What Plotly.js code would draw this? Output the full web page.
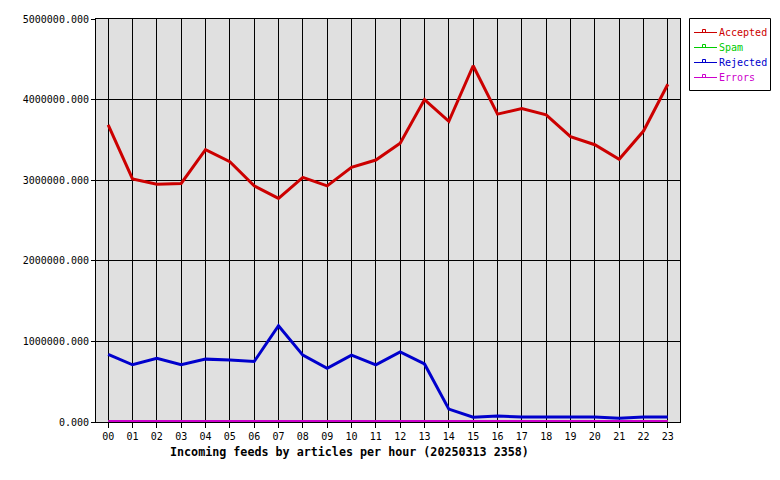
<!DOCTYPE html>
<html>
<head>
<meta charset="utf-8">
<script src="https://cdn.plot.ly/plotly-3.0.1.min.js"></script>
<style>html,body{margin:0;padding:0;background:#fff;}#chart{width:780px;height:480px;}</style>
</head>
<body>
<div id="chart"></div>
<script>
const hours = ["00","01","02","03","04","05","06","07","08","09","10","11","12","13","14","15","16","17","18","19","20","21","22","23"];
const accepted = [3685000,3015000,2950000,2960000,3380000,3230000,2930000,2775000,3035000,2930000,3160000,3250000,3460000,4000000,3730000,4420000,3820000,3890000,3810000,3540000,3440000,3260000,3610000,4190000];
const spam = [0,0,0,0,0,0,0,0,0,0,0,0,0,0,0,0,0,0,0,0,0,0,0,0];
const rejected = [840000,710000,790000,710000,780000,770000,750000,1195000,830000,665000,830000,710000,870000,720000,160000,60000,75000,62000,62000,62000,62000,46000,62000,62000];
const errors = [5000,5000,5000,5000,5000,5000,5000,5000,5000,5000,5000,5000,5000,5000,5000,5000,5000,5000,5000,5000,5000,5000,5000,5000];
const yTickVals = [0,1000000,2000000,3000000,4000000,5000000];
const yTickText = ["0.000","1000000.000","2000000.000","3000000.000","4000000.000","5000000.000"];
const seriesNames = ["Accepted","Spam","Rejected","Errors"];
const seriesColors = ["#cc0000","#00cc00","#0000cc","#cc00cc"];
const titleText = "Incoming feeds by articles per hour (20250313 2358)";

const W = 780, H = 480;
const M = {l:96, r:100, t:19, b:58};
const PW = W - M.l - M.r, PH = H - M.t - M.b;
const px = x => (x - M.l) / PW;      // pixel x -> paper
const py = y => (H - M.b - y) / PH;  // pixel y -> paper

const xIdx = hours.map((h,i)=>i);
const dataSets = [accepted, spam, rejected, errors];
const traces = [];
[1,3,2,0].forEach(k=>{
  traces.push({x:xIdx, y:dataSets[k], type:'scatter', mode:'lines', showlegend:false,
    name:seriesNames[k], line:{color:seriesColors[k], width:3}, hoverinfo:'skip', cliponaxis:false});
});

const fam = '"DejaVu Sans Mono", monospace';
// custom legend (layout decoration)
const shapes = [{type:'rect', xref:'paper', yref:'paper', x0:px(689.5), x1:px(770.5), y0:py(90.5), y1:py(18.5),
  line:{color:'#000', width:1}, fillcolor:'#ffffff', layer:'above'}];
const annotations = [];
seriesNames.forEach((nm,k)=>{
  const ly = 32 + k*15;
  shapes.push({type:'line', xref:'paper', yref:'paper', x0:px(694), x1:px(717), y0:py(ly+0.5), y1:py(ly+0.5),
    line:{color:seriesColors[k], width:1}, layer:'above'});
  shapes.push({type:'rect', xref:'paper', yref:'paper', x0:px(702.5), x1:px(705.5), y0:py(ly+0.5), y1:py(ly-2.5),
    line:{color:seriesColors[k], width:1}, fillcolor:'rgba(0,0,0,0)', layer:'above'});
  annotations.push({text:nm, xref:'paper', yref:'paper', x:px(717), y:py(ly+0.5), xanchor:'left', yanchor:'middle',
    showarrow:false, font:{family:fam, size:10, color:seriesColors[k]}});
});
annotations.push({text:'<b>'+titleText+'</b>', xref:'paper', yref:'paper', x:px(349), y:py(452),
  xanchor:'center', yanchor:'middle', showarrow:false, font:{family:fam, size:11.7, color:'#000'}});

const layout = {
  width:W, height:H,
  margin:{l:M.l, r:M.r, t:M.t, b:M.b, pad:0, autoexpand:false},
  paper_bgcolor:'#ffffff', plot_bgcolor:'#e0e0e0',
  font:{family:fam, size:10, color:'#000'},
  showlegend:false,
  xaxis:{range:[-0.5,23.5], tickvals:xIdx, ticktext:hours, showgrid:true, gridcolor:'#000', gridwidth:1,
    zeroline:false, showline:true, linecolor:'#000', linewidth:1, mirror:true, automargin:false,
    ticks:'outside', ticklen:5, tickcolor:'#000', tickfont:{family:fam,size:10}, fixedrange:true},
  yaxis:{range:[0,5000000], tickvals:yTickVals, ticktext:yTickText, showgrid:true, gridcolor:'#000', gridwidth:1,
    zeroline:false, showline:true, linecolor:'#000', linewidth:1, mirror:true, automargin:false,
    ticks:'outside', ticklen:4, tickcolor:'#000', tickfont:{family:fam,size:10}, fixedrange:true},
  shapes:shapes,
  annotations:annotations
};
Plotly.newPlot('chart', traces, layout, {displayModeBar:false, staticPlot:true});
</script>
</body>
</html>
